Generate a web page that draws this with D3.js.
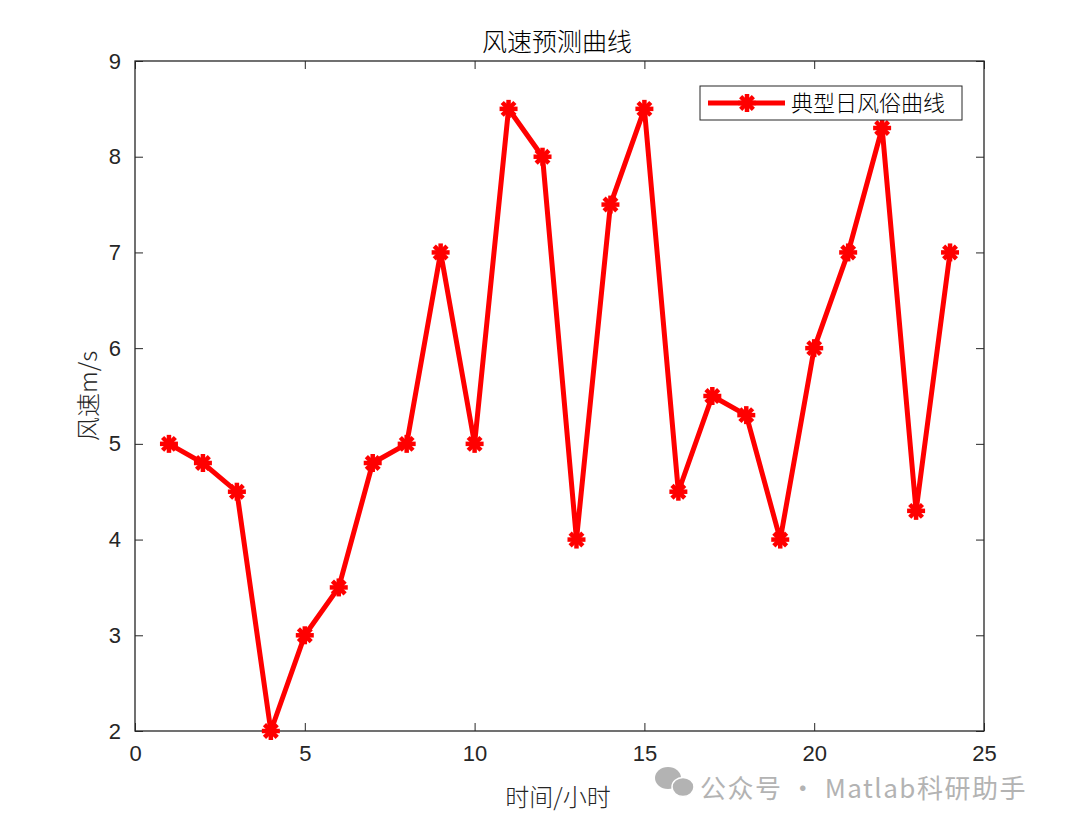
<!DOCTYPE html>
<html><head><meta charset="utf-8">
<script src="https://cdn.jsdelivr.net/npm/d3@7"></script>
<style>body{margin:0;background:#fff}svg{display:block}</style>
</head><body>
<svg id="c" width="1080" height="813"></svg>
<script>
const hours = [1,2,3,4,5,6,7,8,9,10,11,12,13,14,15,16,17,18,19,20,21,22,23,24];
const speeds = [5,4.8,4.5,2,3,3.5,4.8,5,7,5,8.5,8,4,7.5,8.5,4.5,5.5,5.3,4,6,7,8.3,4.3,7];
const xTicks = [0,5,10,15,20,25];
const yTicks = [2,3,4,5,6,7,8,9];
const titleText = "风速预测曲线";
const xLabel = "时间/小时";
const yLabel = "风速m/s";
const legendLabel = "典型日风俗曲线";

const svg = d3.select("#c");
const L=135, R=984, T=61, B=731;
const x = d3.scaleLinear().domain([0,25]).range([L,R]);
const y = d3.scaleLinear().domain([2,9]).range([B,T]);
const axisColor = "#262626";
const tickFont = "'Liberation Sans', Arial, sans-serif";
const cjk = "'Noto Sans CJK SC', sans-serif";

svg.append("rect").attr("x",L).attr("y",T).attr("width",R-L).attr("height",B-T)
  .attr("fill","#fff").attr("stroke",axisColor).attr("stroke-width",1.3);

function styleAxis(g){
  g.select(".domain").remove();
  g.selectAll(".tick line").attr("stroke",axisColor).attr("stroke-width",1);
  g.selectAll(".tick text").attr("fill",axisColor).style("font-family",tickFont).style("font-size","22px");
}
const fmt = d3.format("d");
svg.append("g").attr("transform",`translate(0,${B})`)
  .call(d3.axisBottom(x).tickValues(xTicks).tickFormat(fmt).tickSizeInner(-8).tickSizeOuter(0).tickPadding(14))
  .call(styleAxis);
svg.append("g").attr("transform",`translate(0,${T})`)
  .call(d3.axisTop(x).tickValues(xTicks).tickSizeInner(-8).tickSizeOuter(0).tickFormat(""))
  .call(styleAxis);
svg.append("g").attr("transform",`translate(${L},0)`)
  .call(d3.axisLeft(y).tickValues(yTicks).tickFormat(fmt).tickSizeInner(-8).tickSizeOuter(0).tickPadding(14))
  .call(styleAxis);
svg.append("g").attr("transform",`translate(${R},0)`)
  .call(d3.axisRight(y).tickValues(yTicks).tickSizeInner(-8).tickSizeOuter(0).tickFormat(""))
  .call(styleAxis);

const line = d3.line().x((d,i)=>x(hours[i])).y(d=>y(d));
svg.append("path").datum(speeds).attr("d",line).attr("fill","none")
  .attr("stroke","#ff0000").attr("stroke-width",5).attr("stroke-linejoin","miter");

function star(g, cx, cy, s){
  [0,45,90,135].forEach(deg=>{
    const r = deg*Math.PI/180;
    g.append("line").attr("x1",cx-Math.cos(r)*s).attr("y1",cy-Math.sin(r)*s)
      .attr("x2",cx+Math.cos(r)*s).attr("y2",cy+Math.sin(r)*s)
      .attr("stroke","#ff0000").attr("stroke-width",4.5);
  });
}
const mk = svg.append("g");
speeds.forEach((d,i)=>star(mk, x(hours[i]), y(d), 9));

// title and labels
svg.append("text").attr("x",557).attr("y",51).attr("text-anchor","middle")
  .style("font-family",cjk).style("font-size","25px").style("font-weight",300).attr("fill","#000").text(titleText);
svg.append("text").attr("x",558).attr("y",806).attr("text-anchor","middle")
  .style("font-family",cjk).style("font-size","24px").style("font-weight",300).attr("fill",axisColor).text(xLabel);
svg.append("text").attr("transform",`translate(97,${(T+B)/2}) rotate(-90)`).attr("text-anchor","middle")
  .style("font-family",cjk).style("font-size","24px").style("font-weight",300).attr("fill",axisColor).text(yLabel);

// legend
const lg = svg.append("g");
lg.append("rect").attr("x",700).attr("y",86).attr("width",262).attr("height",34)
  .attr("fill","#fff").attr("stroke","#262626").attr("stroke-width",1);
lg.append("line").attr("x1",708).attr("x2",785).attr("y1",103).attr("y2",103)
  .attr("stroke","#ff0000").attr("stroke-width",5);
star(lg, 747, 103, 9);
lg.append("text").attr("x",791).attr("y",111).style("font-family",cjk).style("font-size","22px")
  .style("font-weight",300).attr("fill","#000").text(legendLabel);

// watermark
const wm = svg.append("g").attr("fill","#b3b3b3");
wm.append("ellipse").attr("cx",668).attr("cy",778).attr("rx",13).attr("ry",11);
wm.append("ellipse").attr("cx",683).attr("cy",787).attr("rx",11).attr("ry",9.5).attr("stroke","#fff").attr("stroke-width",1.5);
wm.append("text").attr("x",700).attr("y",798).style("font-family",cjk)
  .style("font-size","26px").style("letter-spacing","1.5px").text("公众号 · Matlab科研助手");
</script>
</body></html>
